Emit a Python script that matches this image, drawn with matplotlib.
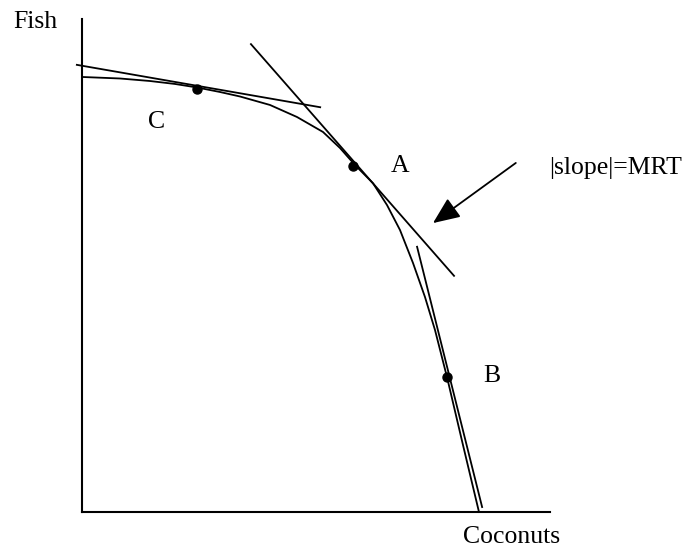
import matplotlib
matplotlib.use('Agg')
import matplotlib.pyplot as plt

# Frontera de posibilidades de producción (coconuts en x, fish en y)
ppf_x = [0.0, 0.812, 1.453, 1.987, 2.457, 2.949, 3.376, 4.017, 4.594, 5.150, 5.513,
		 5.833, 6.218, 6.517, 6.795, 7.073, 7.329, 7.543, 7.799, 8.141, 8.483]
ppf_y = [8.824, 8.793, 8.742, 8.682, 8.611, 8.519, 8.428, 8.256, 8.012, 7.708, 7.383,
		 7.039, 6.669, 6.227, 5.720, 5.051, 4.361, 3.692, 2.738, 1.359, 0.0]

# Puntos marcados
point_names = ['C', 'A', 'B']
point_x = [2.46, 5.79, 7.80]
point_y = [8.58, 7.02, 2.74]

# Tangentes (extremos)
tangent_x = [[-0.11, 5.09], [3.61, 7.95], [7.16, 8.55]]
tangent_y = [[9.07, 8.21], [9.49, 4.79], [5.38, 0.10]]

plt.rcParams['font.family'] = ['Liberation Serif', 'DejaVu Serif']

fig = plt.figure(figsize=(6.99, 5.52), dpi=100)
ax = fig.add_axes([0.1173, 0.0725, 0.6695, 0.8931])
ax.set_xlim(0, 10)
ax.set_ylim(0, 10)
ax.axis('off')

# Ejes
ax.plot([0, 0], [0, 10], color='black', lw=1.5, clip_on=False)
ax.plot([0, 10], [0, 0], color='black', lw=1.5, clip_on=False)

# Curva y tangentes
ax.plot(ppf_x, ppf_y, color='black', lw=1.3, clip_on=False, solid_joinstyle='round')
for tx, ty in zip(tangent_x, tangent_y):
	ax.plot(tx, ty, color='black', lw=1.3, clip_on=False)

ax.plot(point_x, point_y, 'o', color='black', ms=6.5, clip_on=False)

# Etiquetas de los puntos
label_pos = {'C': (1.60, 7.91), 'A': (6.79, 7.02), 'B': (8.76, 2.76)}
for name in point_names:
	ax.text(*label_pos[name], name, fontsize=18.5, ha='center', va='center')

# Flecha y texto de la pendiente
ax.annotate('', xy=(7.50, 5.86), xytext=(9.27, 7.08),
			arrowprops=dict(arrowstyle='-|>,head_length=0.75,head_width=0.32',
							mutation_scale=22, color='black', lw=1.3, shrinkA=0, shrinkB=0),
			annotation_clip=False)
ax.text(9.98, 6.98, '|slope|=MRT', fontsize=18.5, ha='left', va='center')

ax.text(-1.47, 9.94, 'Fish', fontsize=18.5, ha='left', va='center')
ax.text(9.17, -0.51, 'Coconuts', fontsize=18.5, ha='center', va='center')

fig.savefig('out.png', dpi=100)
